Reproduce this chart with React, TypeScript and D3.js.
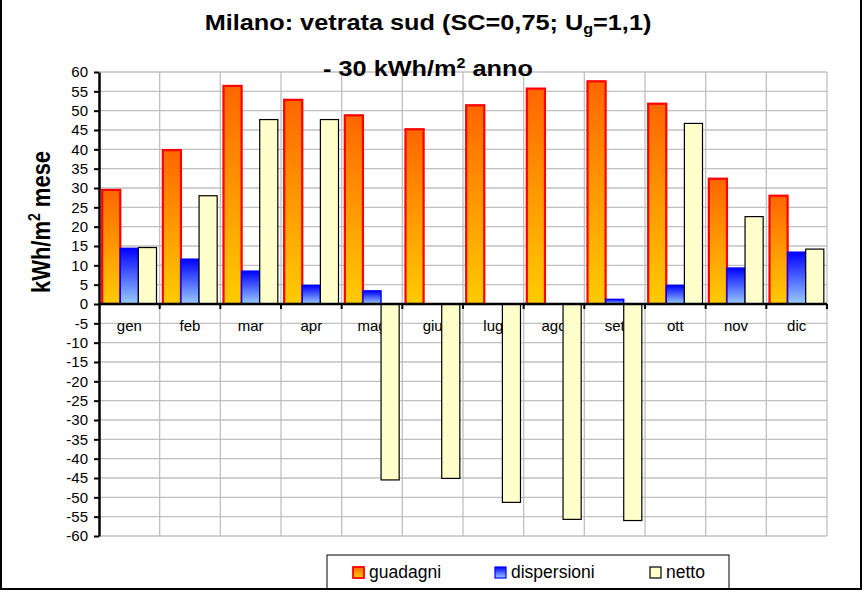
import { useEffect, useRef } from 'react';
import * as d3 from 'd3';

const months = ['gen', 'feb', 'mar', 'apr', 'mag', 'giu', 'lug', 'ago', 'set', 'ott', 'nov', 'dic'];
const series = ['guadagni', 'dispersioni', 'netto'];
const guadagni = [29.5, 39.8, 56.4, 52.8, 48.8, 45.2, 51.4, 55.7, 57.6, 51.8, 32.4, 28.0];
const dispersioni = [14.4, 11.6, 8.5, 4.8, 3.4, 0, 0, 0, 1.2, 4.8, 9.3, 13.4];
const netto = [14.6, 28.0, 47.7, 47.7, -45.5, -45.1, -51.3, -55.7, -56.0, 46.7, 22.6, 14.2];
const yTicks = [-60, -55, -50, -45, -40, -35, -30, -25, -20, -15, -10, -5, 0, 5, 10, 15, 20, 25, 30, 35, 40, 45, 50, 55, 60];

const font = "'Liberation Sans', Arial, sans-serif";

const App = () => {
    const svgRef = useRef(null);
    const width = 866;
    const height = 592;
    const plot = { left: 99, right: 827, top: 72, bottom: 536 };

    useEffect(() => {
        const svg = d3.select(svgRef.current);
        svg.selectAll('*').remove();

        const defs = svg.append('defs');
        const gradO = defs.append('linearGradient').attr('id', 'gradO')
            .attr('x1', 0).attr('y1', 0).attr('x2', 0).attr('y2', 1);
        gradO.append('stop').attr('offset', '0%').attr('stop-color', '#FF6600');
        gradO.append('stop').attr('offset', '100%').attr('stop-color', '#FFCC00');
        const gradB = defs.append('linearGradient').attr('id', 'gradB')
            .attr('x1', 0).attr('y1', 0).attr('x2', 0).attr('y2', 1);
        gradB.append('stop').attr('offset', '0%').attr('stop-color', '#0000FF');
        gradB.append('stop').attr('offset', '100%').attr('stop-color', '#99CCFF');

        const fills = { guadagni: 'url(#gradO)', dispersioni: 'url(#gradB)', netto: '#FFFFCC' };
        const strokes = { guadagni: '#FF0000', dispersioni: '#0000FF', netto: '#000000' };
        const strokeW = { guadagni: 2.2, dispersioni: 1.4, netto: 1.2 };
        const values = { guadagni, dispersioni, netto };

        const x0 = d3.scaleBand().domain(months).range([plot.left, plot.right]).padding(0);
        const bw = x0.bandwidth();
        const barW = bw / 3.35;
        const x1 = d3.scaleBand().domain(series).range([barW * 0.175, bw - barW * 0.175]).padding(0);

        const y = d3.scaleLinear().domain([-60, 60]).range([plot.bottom, plot.top]);

        // gridlines
        svg.append('g')
            .selectAll('line')
            .data(yTicks)
            .join('line')
            .attr('x1', plot.left).attr('x2', plot.right)
            .attr('y1', d => y(d)).attr('y2', d => y(d))
            .attr('stroke', '#C0C0C0').attr('stroke-width', 1.3);
        svg.append('g')
            .selectAll('line')
            .data(months)
            .join('line')
            .attr('x1', d => x0(d) + bw).attr('x2', d => x0(d) + bw)
            .attr('y1', plot.top).attr('y2', plot.bottom)
            .attr('stroke', '#C0C0C0').attr('stroke-width', 1.3);

        // category labels (behind bars)
        svg.append('g')
            .selectAll('text')
            .data(months)
            .join('text')
            .attr('x', d => x0(d) + bw / 2)
            .attr('y', 331)
            .attr('text-anchor', 'middle')
            .style('font-family', font)
            .style('font-size', '15px')
            .text(d => d);

        // bars
        const groups = svg.append('g')
            .selectAll('g')
            .data(months)
            .join('g')
            .attr('transform', d => `translate(${x0(d)},0)`);
        groups.selectAll('rect')
            .data((m, i) => series.map(s => ({ s, v: values[s][i] })).filter(d => d.v !== 0))
            .join('rect')
            .attr('x', d => x1(d.s))
            .attr('width', x1.bandwidth())
            .attr('y', d => y(Math.max(0, d.v)))
            .attr('height', d => Math.abs(y(d.v) - y(0)))
            .attr('fill', d => fills[d.s])
            .attr('stroke', d => strokes[d.s])
            .attr('stroke-width', d => strokeW[d.s]);

        // y axis
        const yAxis = svg.append('g')
            .attr('transform', `translate(${plot.left},0)`)
            .call(d3.axisLeft(y).tickValues(yTicks).tickSize(5).tickSizeOuter(0).tickPadding(6)
                .tickFormat(d => String(d)));
        yAxis.select('.domain').attr('stroke', '#000').attr('stroke-width', 2.5);
        yAxis.selectAll('.tick line').attr('stroke', '#000').attr('stroke-width', 2);
        yAxis.selectAll('.tick text')
            .attr('fill', '#000')
            .style('font-family', font)
            .style('font-size', '15px');

        // x axis at zero
        svg.append('line')
            .attr('x1', plot.left).attr('x2', plot.right)
            .attr('y1', y(0)).attr('y2', y(0))
            .attr('stroke', '#000').attr('stroke-width', 2.5);
        svg.append('g')
            .selectAll('line')
            .data(months)
            .join('line')
            .attr('x1', d => x0(d) + bw).attr('x2', d => x0(d) + bw)
            .attr('y1', y(0)).attr('y2', y(0) + 5)
            .attr('stroke', '#000').attr('stroke-width', 2);

        // title
        const t1 = svg.append('text')
            .attr('transform', 'translate(428,30) scale(1.15,1)')
            .attr('text-anchor', 'middle')
            .style('font-family', font)
            .style('font-weight', 'bold')
            .style('font-size', '22px');
        t1.append('tspan').text('Milano: vetrata sud (SC=0,75; U');
        t1.append('tspan').attr('dy', 4).style('font-size', '14px').text('g');
        t1.append('tspan').attr('dy', -4).text('=1,1)');

        const t2 = svg.append('text')
            .attr('transform', 'translate(428,76) scale(1.15,1)')
            .attr('text-anchor', 'middle')
            .style('font-family', font)
            .style('font-weight', 'bold')
            .style('font-size', '22px');
        t2.append('tspan').text('- 30 kWh/m');
        t2.append('tspan').attr('dy', -8).style('font-size', '14px').text('2');
        t2.append('tspan').attr('dy', 8).text(' anno');

        // y axis title
        const yt = svg.append('text')
            .attr('transform', 'translate(50,222) scale(1.2,1) rotate(-90)')
            .attr('text-anchor', 'middle')
            .style('font-family', font)
            .style('font-weight', 'bold')
            .style('font-size', '22px');
        yt.append('tspan').text('kWh/m');
        yt.append('tspan').attr('dy', -8).style('font-size', '14px').text('2');
        yt.append('tspan').attr('dy', 8).text(' mese');

        // legend
        const legend = svg.append('g');
        legend.append('rect')
            .attr('x', 327).attr('y', 555).attr('width', 402).attr('height', 34)
            .attr('fill', '#fff').attr('stroke', '#000').attr('stroke-width', 1);
        const legendX = [353, 495, 650];
        const items = legend.selectAll('g.item')
            .data(series)
            .join('g')
            .attr('class', 'item')
            .attr('transform', (d, i) => `translate(${legendX[i]},567)`);
        items.append('rect')
            .attr('width', 11).attr('height', 11)
            .attr('fill', d => fills[d])
            .attr('stroke', d => strokes[d])
            .attr('stroke-width', d => (d === 'guadagni' ? 1.8 : 1.2));
        items.append('text')
            .attr('x', 16).attr('y', 11)
            .style('font-family', font)
            .style('font-size', '17.5px')
            .text(d => d);

        // chart border
        svg.append('rect')
            .attr('x', 1).attr('y', -10).attr('width', 860).attr('height', 599)
            .attr('fill', 'none').attr('stroke', '#000').attr('stroke-width', 2);
    }, []);

    return (
        <svg ref={svgRef} width={width} height={height}
            style={{ position: 'absolute', left: 0, top: 0, background: '#fff' }}></svg>
    );
};

export default App;
